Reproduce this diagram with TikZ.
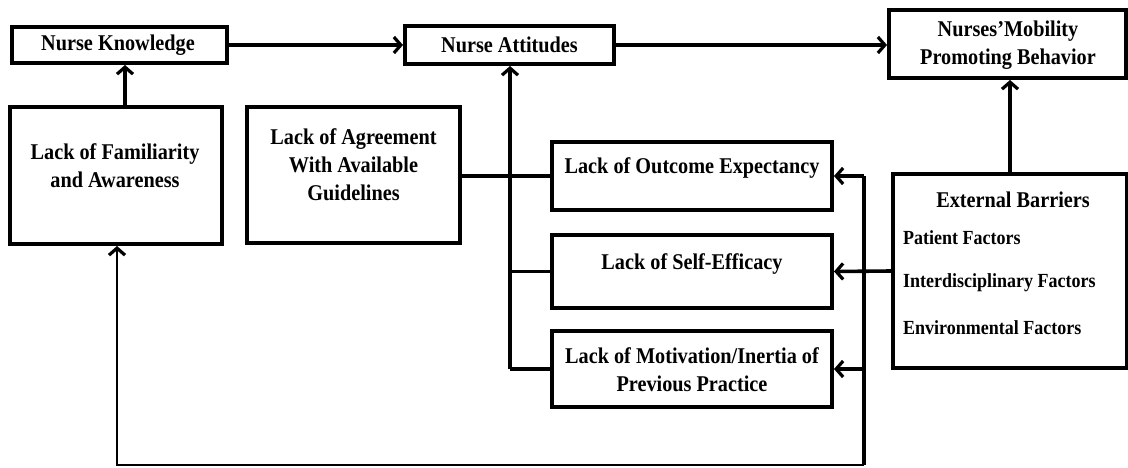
\documentclass[tikz,border=0pt]{standalone}
\usepackage{fontspec}
\setmainfont{Liberation Serif}[FakeStretch=0.9]
\usetikzlibrary{arrows.meta}
\begin{document}
\begin{tikzpicture}[x=1pt,y=-1pt,
  box/.style={draw, line width=4pt, rectangle, inner sep=0pt},
  ln/.style={line width=3.6pt},
  arr/.style={line width=3.6pt, -{Straight Barb[length=7pt,width=16pt,line width=3.2pt]}},
  lbl/.style={font=\fontsize{22.5}{28}\selectfont\bfseries, align=center, inner sep=0pt, text=black},
  itm/.style={font=\fontsize{20}{24}\selectfont\bfseries, anchor=west, inner sep=0pt, text=black}]
\useasboundingbox (0,0) rectangle (1128,467);
% boxes
\node[box, minimum width=215pt, minimum height=36pt] (nk) at (119.5,45) {};
\node[box, minimum width=209pt, minimum height=38pt] (na) at (509.5,45) {};
\node[box, minimum width=237pt, minimum height=68pt] (nmb) at (1007.5,44) {};
\node[box, minimum width=212pt, minimum height=137pt] (lf) at (116,175.5) {};
\node[box, minimum width=213pt, minimum height=136pt] (la) at (353.5,175) {};
\node[box, minimum width=280pt, minimum height=68pt] (loe) at (692,176) {};
\node[box, minimum width=280pt, minimum height=73pt] (lse) at (692,271.5) {};
\node[box, minimum width=280pt, minimum height=76pt] (lm) at (692,369) {};
\node[box, minimum width=234pt, minimum height=194pt] (eb) at (1010,271) {};
% texts
\node[lbl] (nkt) at (118,45) {Nurse Knowledge};
\node[lbl] (nat) at (509.5,45) {Nurse Attitudes};
\node[lbl] (nmbt) at (1008,45) {Nurses'Mobility\\Promoting Behavior};
\node[lbl] (lft) at (115,166) {Lack of Familiarity\\and Awareness};
\node[lbl] (lat) at (353.5,165) {Lack of Agreement\\With Available\\Guidelines};
\node[lbl] (loet) at (692,168) {Lack of Outcome Expectancy};
\node[lbl] (lset) at (692,264) {Lack of Self-Efficacy};
\node[lbl] (lmt) at (692,370) {Lack of Motivation/Inertia of\\Previous Practice};
\node[lbl] (ebt) at (1013,200) {External Barriers};
\node[itm] (eb1) at (903,238) {Patient Factors};
\node[itm] (eb2) at (903,283) {Interdisciplinary Factors};
\node[itm] (eb3) at (903,328) {Environmental Factors};
% junction coordinates
\coordinate (lv) at (510,369);
\coordinate (rvtop) at (864,176);
\coordinate (rvbot) at (864,465);
\coordinate (lfin) at ([xshift=1pt]lf.south);
% connectors
\draw[arr] (nk.east) -- (nk.east -| na.west);
\draw[arr] (na.east) -- (na.east -| nmb.west);
\draw[arr] ([xshift=9pt]lf.north) -- ([xshift=9pt]lf.north |- nk.south);
\draw[arr] (eb.north) -- (eb.north |- nmb.south);
\draw[ln] (loe.west -| la.east) -- (loe.west);
\draw[ln] (lm.west) -- (lv);
\draw[ln] (lse.west) -- (lse.west -| lv);
\draw[arr] (lv) -- (lv |- na.south);
\draw[ln] (rvtop) -- (rvbot);
\draw[arr] (rvtop) -- (loe.east);
\draw[arr] (eb.west) -- (lse.east);
\draw[arr] (lm.east -| rvtop) -- (lm.east);
\draw[arr, line width=2.6pt] (rvbot) -- (rvbot -| lfin) -- (lfin);
\end{tikzpicture}
\end{document}
